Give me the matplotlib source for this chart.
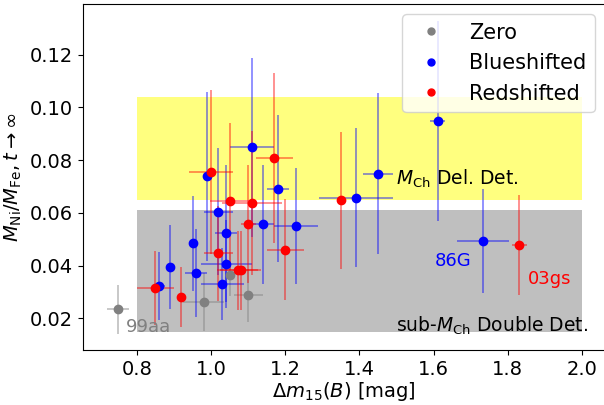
import numpy as np
import matplotlib
matplotlib.use('Agg')
import matplotlib.pyplot as plt

# blueshifted
blue_x = [0.990, 1.110, 1.181, 1.020, 1.140, 1.230, 1.041, 1.041, 1.031,
          0.951, 0.960, 0.890, 0.860, 1.391, 1.451, 1.611, 1.732]
blue_y = [0.0739, 0.0848, 0.0692, 0.0605, 0.0556, 0.0550, 0.0523, 0.0405, 0.0329,
          0.0485, 0.0372, 0.0395, 0.0322, 0.0658, 0.0749, 0.0948, 0.0493]
blue_xerr = [0.01, 0.059, 0.030, 0.040, 0.030, 0.059, 0.030, 0.069, 0.058,
             0.01, 0.030, 0.01, 0.015, 0.100, 0.040, 0.020, 0.070]
blue_yerr = [0.032, 0.034, 0.0278, 0.024, 0.0224, 0.022, 0.026, 0.0167, 0.0136,
             0.018, 0.0166, 0.0158, 0.0128, 0.0264, 0.0304, 0.038, 0.0196]

# redshifted
red_x = [1.000, 1.170, 1.051, 1.111, 1.101, 1.200, 1.020, 1.072, 1.080,
         0.850, 0.919, 1.351, 1.831]
red_y = [0.0755, 0.0808, 0.0644, 0.0638, 0.0558, 0.0461, 0.0446, 0.0383, 0.0382,
         0.0315, 0.0281, 0.0648, 0.0477]
red_xerr = [0.060, 0.050, 0.054, 0.080, 0.020, 0.050, 0.040, 0.055, 0.055,
            0.050, 0.01, 0.01, 0.020]
red_yerr = [0.031, 0.0324, 0.0296, 0.0272, 0.0223, 0.019, 0.018, 0.015, 0.015,
            0.014, 0.0115, 0.026, 0.019]

# zero shift
zero_x = [1.050, 1.101, 0.980, 0.750]
zero_y = [0.0364, 0.0288, 0.0261, 0.0234]
zero_xerr = [0.01, 0.040, 0.056, 0.030]
zero_yerr = [0.008, 0.010, 0.011, 0.0092]

fig = plt.figure(figsize=(6.04, 4.05), dpi=100)
ax = fig.add_axes([83/604, 55/405, 522/604, 346/405])

# model regions
ax.fill_between([0.8, 2.0], 0.065, 0.104, color='yellow', alpha=0.5, lw=0, zorder=0)
ax.fill_between([0.8, 2.0], 0.015, 0.061, color='gray', alpha=0.5, lw=0, zorder=0)

for xs, ys, xe, ye, c in [(zero_x, zero_y, zero_xerr, zero_yerr, 'gray'),
                          (blue_x, blue_y, blue_xerr, blue_yerr, 'blue'),
                          (red_x, red_y, red_xerr, red_yerr, 'red')]:
    eb = ax.errorbar(xs, ys, xerr=xe, yerr=ye, fmt='o', color=c, ms=6,
                     elinewidth=1.2, capsize=0)
    for l in eb[2]:
        l.set_alpha(0.5)

ax.plot([], [], 'o', color='gray', ms=5, label='Zero')
ax.plot([], [], 'o', color='blue', ms=5, label='Blueshifted')
ax.plot([], [], 'o', color='red', ms=5, label='Redshifted')

ax.text(1.50, 0.0705, r'$M_{\rm Ch}$ Del. Det.', fontsize=13.5)
ax.text(1.50, 0.015, r'sub-$M_{\rm Ch}$ Double Det.', fontsize=13.5)
ax.text(0.771, 0.0149, '99aa', color='gray', fontsize=13)
ax.text(1.602, 0.0398, '86G', color='blue', fontsize=13)
ax.text(1.854, 0.033, '03gs', color='red', fontsize=13)

ax.set_xlim(0.655, 2.062)
ax.set_ylim(0.008, 0.1392)
ax.set_xticks([0.8, 1.0, 1.2, 1.4, 1.6, 1.8, 2.0])
ax.set_yticks([0.02, 0.04, 0.06, 0.08, 0.10, 0.12])
ax.tick_params(labelsize=14)
ax.set_xlabel(r'$\Delta m_{15}(B)$ [mag]', fontsize=14, labelpad=1)
ax.set_ylabel(r'$M_{\rm Ni}/M_{\rm Fe}, t\rightarrow\infty$', fontsize=14)
ax.legend(loc='upper right', fontsize=15)

fig.savefig('out.png', dpi=100)
